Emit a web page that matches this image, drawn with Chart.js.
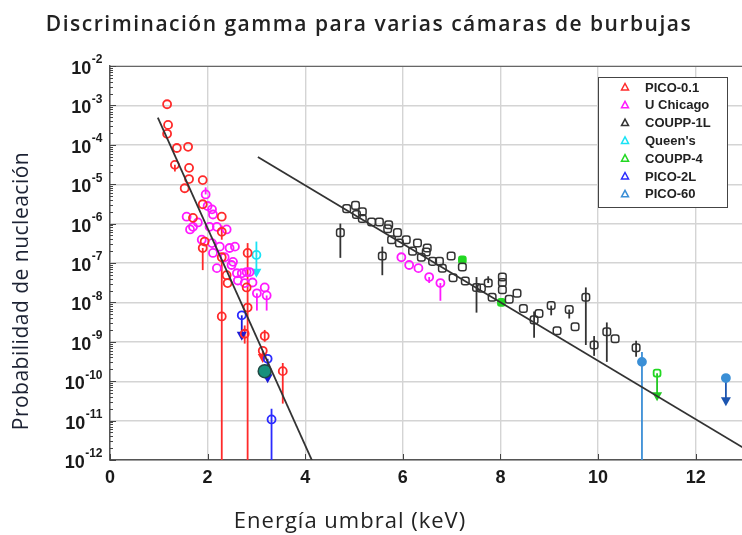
<!DOCTYPE html>
<html>
<head>
<meta charset="utf-8">
<script src="https://cdn.jsdelivr.net/npm/chart.js@4.4.0/dist/chart.umd.min.js"></script>
<style>
  html, body { margin: 0; background: #fff; overflow: hidden; }
  #wrap { width: 742px; height: 535px; position: relative; }
  canvas { display: block; }
</style>
</head>
<body>
<div id="wrap"><canvas id="chart"></canvas></div>
<script>
// ejes
const xTicks = [0, 2, 4, 6, 8, 10, 12];
const yExps = [-2, -3, -4, -5, -6, -7, -8, -9, -10, -11, -12];

// rectas de ajuste
const fitSteep = [{ x: 0.98, y: 4.9e-4 }, { x: 4.17, y: 8e-13 }];
const fitShallow = [{ x: 3.03, y: 4.9e-5 }, { x: 13.2, y: 1.4e-12 }];

// lo/hi = extremos de la barra de error, lim = limite superior (flecha)
const pico01 = [
  { x: 1.17, y: 1.07e-3 }, { x: 1.19, y: 3.2e-4 }, { x: 1.17, y: 1.9e-4 },
  { x: 1.37, y: 8.3e-5 }, { x: 1.60, y: 8.9e-5 }, { x: 1.33, y: 3.1e-5, lo: 2.1e-5 },
  { x: 1.62, y: 2.6e-5 }, { x: 1.62, y: 1.35e-5 }, { x: 1.53, y: 7.9e-6 },
  { x: 1.90, y: 1.27e-5 }, { x: 1.90, y: 3.1e-6 }, { x: 1.70, y: 1.4e-6 },
  { x: 2.29, y: 1.5e-6 }, { x: 2.29, y: 6.2e-7, lo: 3.9e-7, hi: 8.9e-7 },
  { x: 1.94, y: 3.5e-7 }, { x: 1.90, y: 2.4e-7, lo: 6.6e-8 },
  { x: 2.29, y: 1.4e-7 }, { x: 2.29, y: 4.4e-9, lo: 1e-12, hi: 1.2e-7 },
  { x: 2.82, y: 1.8e-7, hi: 3.2e-7 }, { x: 2.82, y: 7.4e-9, lo: 1e-12, hi: 1.8e-7 },
  { x: 2.41, y: 3.1e-8 }, { x: 2.39, y: 4.9e-8 }, { x: 2.80, y: 2.4e-8 },
  { x: 2.76, y: 1.6e-9, lo: 9e-10, hi: 2.6e-9 }, { x: 3.17, y: 1.4e-9, lo: 1e-9, hi: 2e-9 },
  { x: 3.13, y: 5.9e-10, lim: 2.9e-10 }, { x: 3.54, y: 1.8e-10, lo: 2.7e-11, hi: 2.9e-10 }
];

const uChicago = [
  { x: 1.96, y: 5.5e-6, hi: 8.3e-6 }, { x: 2.00, y: 2.8e-6 }, { x: 2.11, y: 1.7e-6 },
  { x: 1.57, y: 1.5e-6 }, { x: 1.70, y: 8.3e-7 }, { x: 1.80, y: 1.07e-6 },
  { x: 2.19, y: 8.3e-7 }, { x: 2.39, y: 7.1e-7 }, { x: 1.88, y: 3.9e-7 },
  { x: 2.09, y: 3.2e-7 }, { x: 2.25, y: 2.6e-7 }, { x: 2.45, y: 2.4e-7 },
  { x: 2.56, y: 2.6e-7 }, { x: 2.11, y: 1.8e-7 }, { x: 2.35, y: 1.4e-7 },
  { x: 2.19, y: 7.4e-8 }, { x: 2.52, y: 1.07e-7 }, { x: 2.60, y: 5.5e-8 },
  { x: 2.80, y: 5.9e-8 }, { x: 1.64, y: 7.1e-7 }, { x: 2.09, y: 2.3e-6 },
  { x: 2.04, y: 8.3e-7 }, { x: 2.49, y: 8.9e-8 }, { x: 2.70, y: 5.5e-8 },
  { x: 2.62, y: 3.6e-8 }, { x: 2.76, y: 3.1e-8 }, { x: 2.92, y: 3.2e-8 },
  { x: 3.01, y: 1.7e-8, lo: 6.2e-9 }, { x: 3.17, y: 2.4e-8 }, { x: 3.21, y: 1.5e-8, lo: 6.2e-9 },
  { x: 2.86, y: 5.9e-8 },
  { x: 5.97, y: 1.4e-7 }, { x: 6.13, y: 8.9e-8 }, { x: 6.32, y: 7.4e-8 },
  { x: 6.54, y: 4.4e-8, lo: 3.1e-8 }, { x: 6.77, y: 3.1e-8, lo: 1.1e-8 }
];

const coupp1L = [
  { x: 4.72, y: 5.9e-7, lo: 1.35e-7, hi: 1e-6 }, { x: 4.85, y: 2.4e-6 }, { x: 5.03, y: 2.9e-6 },
  { x: 5.05, y: 1.7e-6 }, { x: 5.17, y: 2.0e-6 }, { x: 5.17, y: 1.35e-6 },
  { x: 5.36, y: 1.1e-6 }, { x: 5.52, y: 1.1e-6 }, { x: 5.71, y: 9.4e-7 },
  { x: 5.69, y: 7.4e-7 }, { x: 5.89, y: 5.9e-7 }, { x: 5.77, y: 3.9e-7 },
  { x: 6.07, y: 3.9e-7 }, { x: 5.93, y: 3.2e-7 }, { x: 6.30, y: 3.2e-7 },
  { x: 5.58, y: 1.5e-7, lo: 4.9e-8, hi: 2.6e-7 }, { x: 6.20, y: 2.0e-7 },
  { x: 6.50, y: 2.4e-7 }, { x: 6.48, y: 1.9e-7 }, { x: 6.38, y: 1.4e-7 },
  { x: 6.61, y: 1.1e-7 }, { x: 6.75, y: 1.1e-7 }, { x: 6.81, y: 7.4e-8 },
  { x: 6.99, y: 1.5e-7 }, { x: 7.22, y: 7.9e-8 }, { x: 7.03, y: 4.2e-8 },
  { x: 7.28, y: 3.5e-8 }, { x: 7.51, y: 2.4e-8, lo: 5.5e-9, hi: 4.4e-8 },
  { x: 7.61, y: 2.3e-8 }, { x: 7.75, y: 3.1e-8, hi: 4.6e-8 }, { x: 7.83, y: 1.35e-8 },
  { x: 8.04, y: 4.4e-8 }, { x: 8.04, y: 3.2e-8 }, { x: 8.04, y: 2.1e-8 },
  { x: 8.18, y: 1.2e-8 }, { x: 8.34, y: 1.7e-8 }, { x: 8.47, y: 7.0e-9 },
  { x: 8.69, y: 3.6e-9, lo: 1.26e-9, hi: 5.9e-9 }, { x: 8.79, y: 5.2e-9 },
  { x: 9.04, y: 8.3e-9, lo: 4.7e-9 }, { x: 9.16, y: 1.9e-9 },
  { x: 9.41, y: 6.6e-9, lo: 3.9e-9 }, { x: 9.53, y: 2.4e-9 },
  { x: 9.75, y: 1.35e-8, lo: 8.3e-10, hi: 2.4e-8 }, { x: 9.92, y: 8.3e-10, lo: 4.4e-10, hi: 1.4e-9 },
  { x: 10.18, y: 1.8e-9, lo: 3.1e-10, hi: 3.1e-9 }, { x: 10.35, y: 1.2e-9 },
  { x: 10.78, y: 7.1e-10, lo: 4.2e-10, hi: 1.07e-9 }
];

const queens = [{ x: 3.0, y: 1.6e-7, hi: 3.5e-7, lim: 4.2e-8 }];
const queensFit = [{ x: 3.17, y: 1.8e-10 }];
const coupp4 = [{ x: 7.22, y: 1.2e-7 }, { x: 8.02, y: 1e-8 }, { x: 11.21, y: 1.6e-10, lim: 3.1e-11 }];
const pico2L = [
  { x: 2.70, y: 4.7e-9, lim: 1.07e-9 }, { x: 3.23, y: 3.7e-10, lim: 8.9e-11 },
  { x: 3.31, y: 1.07e-11, lo: 1e-12, hi: 2e-11 }
];
const pico60 = [{ x: 10.9, y: 3.1e-10, lo: 1e-12, hi: 5.5e-10 }, { x: 12.62, y: 1.2e-10, lim: 2.3e-11 }];

const FONT = '"Liberation Sans", Arial, sans-serif';
const TITLE_FONT = '"Open Sans", "Noto Sans", sans-serif';

function series(label, data, color, extra) {
  return Object.assign({
    label: label, data: data, borderColor: color, backgroundColor: 'rgba(255,255,255,0)',
    pointStyle: 'circle', pointRadius: 4, pointBorderWidth: 1.8, showLine: false, inLegend: true
  }, extra || {});
}

function fitLine(data) {
  return { data: data, showLine: true, borderColor: '#333', borderWidth: 1.8,
           pointRadius: 0, inLegend: false };
}

const datasets = [
  fitLine(fitSteep),
  fitLine(fitShallow),
  series('PICO-0.1', pico01, '#ff2a2a'),
  series('U Chicago', uChicago, '#ff1aff'),
  series('COUPP-1L', coupp1L, '#333333', { pointStyle: 'rectRounded', pointRadius: 4.4, pointBorderWidth: 1.5 }),
  series("Queen's", queens, '#19e3f5'),
  series('COUPP-4', coupp4, '#22d822', {
    pointStyle: 'rectRounded',
    backgroundColor: ctx => (ctx.raw && ctx.raw.lim) ? 'rgba(255,255,255,0)' : '#22d822',
    arrowColor: '#22c822'
  }),
  series('PICO-2L', pico2L, '#2b2bff', { arrowColor: '#1a1ad8' }),
  series('PICO-60', pico60, '#3b8fd6', { backgroundColor: '#3b8fd6', arrowColor: '#1c55b0' }),
  series('', queensFit, '#1f4a44', { backgroundColor: '#17907c', pointRadius: 6.5, pointBorderWidth: 1.5, inLegend: false })
];

// barras de error y flechas de limite superior
const errorBars = {
  id: 'errorBars',
  beforeDatasetsDraw(chart) {
    const ctx = chart.ctx, xs = chart.scales.x, ys = chart.scales.y, a = chart.chartArea;
    ctx.save();
    ctx.beginPath();
    ctx.rect(a.left, a.top, a.right - a.left, a.bottom - a.top + 1);
    ctx.clip();
    chart.data.datasets.forEach(ds => {
      if (!ds.inLegend && ds.label !== '') return;
      ds.data.forEach(p => {
        const px = xs.getPixelForValue(p.x);
        const py = ys.getPixelForValue(p.y);
        ctx.strokeStyle = ds.borderColor;
        ctx.lineWidth = 1.8;
        if (p.lo !== undefined || p.hi !== undefined) {
          const top = ys.getPixelForValue(p.hi !== undefined ? p.hi : p.y);
          const bot = ys.getPixelForValue(p.lo !== undefined ? p.lo : p.y);
          ctx.beginPath();
          ctx.moveTo(px, top);
          ctx.lineTo(px, bot);
          ctx.stroke();
        }
        if (p.lim !== undefined) {
          const pl = ys.getPixelForValue(p.lim);
          const col = ds.arrowColor || ds.borderColor;
          ctx.strokeStyle = col;
          ctx.beginPath();
          ctx.moveTo(px, py);
          ctx.lineTo(px, pl - 4);
          ctx.stroke();
          ctx.fillStyle = col;
          ctx.beginPath();
          ctx.moveTo(px - 5, pl - 9);
          ctx.lineTo(px + 5, pl - 9);
          ctx.lineTo(px, pl);
          ctx.closePath();
          ctx.fill();
        }
      });
    });
    ctx.restore();
  }
};

// etiquetas de los ejes, marcas menores, titulos y leyenda
const decorations = {
  id: 'decorations',
  afterDraw(chart) {
    const ctx = chart.ctx, xs = chart.scales.x, ys = chart.scales.y, a = chart.chartArea;
    ctx.save();

    // borde superior
    ctx.strokeStyle = '#666';
    ctx.lineWidth = 1;
    ctx.beginPath();
    ctx.moveTo(a.left, a.top + 0.5);
    ctx.lineTo(a.right, a.top + 0.5);
    ctx.stroke();

    // marcas del eje y (mayores y menores)
    ctx.strokeStyle = '#444';
    ctx.lineWidth = 1;
    yExps.forEach(e => {
      const py = Math.round(ys.getPixelForValue(Math.pow(10, e))) + 0.5;
      ctx.beginPath();
      ctx.moveTo(a.left, py);
      ctx.lineTo(a.left + 6, py);
      ctx.stroke();
      if (e > -12) {
        for (let k = 2; k <= 9; k++) {
          const pm = Math.round(ys.getPixelForValue(k * Math.pow(10, e - 1))) + 0.5;
          ctx.beginPath();
          ctx.moveTo(a.left, pm);
          ctx.lineTo(a.left + 3, pm);
          ctx.stroke();
        }
      }
    });
    // marcas del eje x
    xTicks.forEach(v => {
      const px = Math.round(xs.getPixelForValue(v)) + 0.5;
      ctx.beginPath();
      ctx.moveTo(px, a.bottom);
      ctx.lineTo(px, a.bottom - 6);
      ctx.stroke();
    });

    // etiquetas 10^n
    ctx.fillStyle = '#1a1a1a';
    ctx.textBaseline = 'middle';
    yExps.forEach(e => {
      const py = ys.getPixelForValue(Math.pow(10, e));
      ctx.font = 'bold 12px ' + FONT;
      ctx.textAlign = 'left';
      const expTxt = '-' + Math.abs(e);
      const ew = ctx.measureText(expTxt).width;
      ctx.font = 'bold 18px ' + FONT;
      const bw = ctx.measureText('10').width;
      const x0 = a.left - 8 - ew - bw;
      ctx.fillText('10', x0, py + 3);
      ctx.font = 'bold 12px ' + FONT;
      ctx.fillText(expTxt, x0 + bw + 0.5, py - 6);
    });
    ctx.font = 'bold 18px ' + FONT;
    ctx.textAlign = 'center';
    xTicks.forEach(v => {
      ctx.fillText(String(v), xs.getPixelForValue(v), a.bottom + 18);
    });

    // titulos
    ctx.fillStyle = '#222';
    ctx.textAlign = 'center';
    ctx.font = '600 21px ' + TITLE_FONT;
    ctx.letterSpacing = '1.5px';
    ctx.fillText('Discriminación gamma para varias cámaras de burbujas', 369, 25);
    ctx.font = '22px ' + TITLE_FONT;
    ctx.letterSpacing = '1px';
    ctx.fillText('Energía umbral (keV)', 350, 522);
    ctx.save();
    ctx.translate(22, 291);
    ctx.rotate(-Math.PI / 2);
    ctx.fillStyle = '#1c2233';
    ctx.font = '21px ' + TITLE_FONT;
    ctx.letterSpacing = '0.5px';
    ctx.fillText('Probabilidad de nucleación', 0, 0);
    ctx.restore();
    ctx.letterSpacing = '0px';

    // leyenda
    const entries = chart.data.datasets.filter(d => d.inLegend);
    const bx = a.right - 144, by = a.top + 11, bw2 = 129, bh = 130;
    ctx.fillStyle = '#fff';
    ctx.fillRect(bx, by, bw2, bh);
    ctx.strokeStyle = '#444';
    ctx.lineWidth = 1;
    ctx.strokeRect(bx + 0.5, by + 0.5, bw2, bh);
    ctx.font = 'bold 13px ' + FONT;
    ctx.textAlign = 'left';
    entries.forEach((d, i) => {
      const ry = by + 10 + i * 17.8;
      const mx = bx + 27;
      ctx.strokeStyle = d.borderColor;
      ctx.lineWidth = 1.5;
      ctx.beginPath();
      ctx.moveTo(mx - 3.5, ry + 3);
      ctx.lineTo(mx + 3.5, ry + 3);
      ctx.lineTo(mx, ry - 3.5);
      ctx.closePath();
      ctx.stroke();
      ctx.fillStyle = '#222';
      ctx.fillText(d.label, bx + 47, ry + 1);
    });
    ctx.restore();
  }
};

new Chart(document.getElementById('chart'), {
  type: 'scatter',
  data: { datasets: datasets },
  options: {
    responsive: true,
    maintainAspectRatio: false,
    animation: false,
    layout: { autoPadding: false, padding: { left: 110, top: 66, right: 0, bottom: 75 } },
    plugins: { legend: { display: false }, tooltip: { enabled: false } },
    scales: {
      x: {
        type: 'linear', min: 0, max: 12.95,
        afterBuildTicks: s => { s.ticks = xTicks.map(v => ({ value: v })); },
        ticks: { display: false },
        grid: { color: '#d4d4d4', lineWidth: 1.4, drawTicks: false },
        border: { color: '#555', width: 1.5 }
      },
      y: {
        type: 'logarithmic', min: 1e-12, max: 1e-2,
        afterBuildTicks: s => { s.ticks = yExps.map(e => ({ value: Math.pow(10, e) })); },
        ticks: { display: false },
        grid: { color: '#d4d4d4', lineWidth: 1.4, drawTicks: false },
        border: { color: '#555', width: 1.5 }
      }
    }
  },
  plugins: [errorBars, decorations]
});
</script>
</body>
</html>
